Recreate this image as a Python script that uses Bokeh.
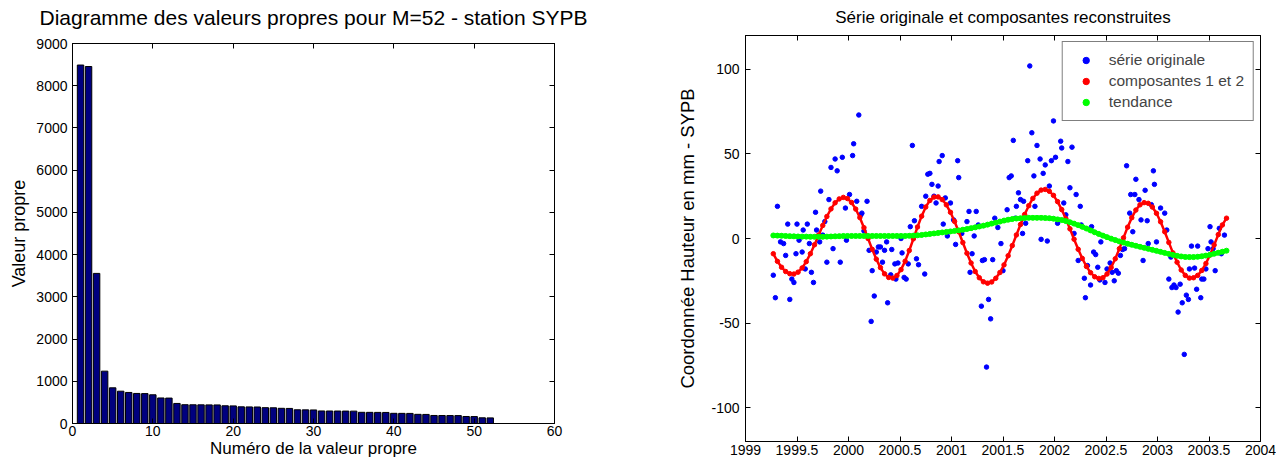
from bokeh.plotting import figure
from bokeh.layouts import row
from bokeh.models import (LinearAxis, FixedTicker, CustomJSTickFormatter, Range1d, Legend)
from bokeh.embed import file_html
from bokeh.resources import INLINE

# ---------------- data: eigenvalue diagram ----------------
eig_index = list(range(1, 53))
eig_values = [8490, 8455, 3555, 1240, 845, 765, 735, 712, 708, 680,
              605, 602, 475, 445, 443, 442, 441, 440, 420, 417,
              395, 393, 391, 375, 372, 360, 357, 325, 323, 321,
              297, 296, 295, 294, 293, 265, 264, 263, 262, 241,
              240, 239, 217, 215, 190, 189, 188, 187, 166, 164,
              135, 133]
left_x_ticks = [0, 10, 20, 30, 40, 50, 60]
left_y_ticks = [0, 1000, 2000, 3000, 4000, 5000, 6000, 7000, 8000, 9000]

# ---------------- data: original series ----------------
orig_t = [1999.27, 1999.29, 1999.31, 1999.34, 1999.37, 1999.39, 1999.41, 1999.43, 1999.45, 1999.47,
          1999.49, 1999.50, 1999.52, 1999.55, 1999.56, 1999.58, 1999.60, 1999.62, 1999.64, 1999.66,
          1999.68, 1999.69, 1999.72, 1999.73, 1999.75, 1999.77, 1999.79, 1999.81, 1999.83, 1999.85,
          1999.87, 1999.89, 1999.92, 1999.94, 1999.97, 1999.98,
          2000.01, 2000.04, 2000.05, 2000.08, 2000.10, 2000.12, 2000.13, 2000.15, 2000.18, 2000.20,
          2000.22, 2000.23, 2000.25, 2000.27, 2000.29, 2000.31, 2000.33, 2000.35, 2000.37, 2000.38,
          2000.41, 2000.42, 2000.45, 2000.46, 2000.48, 2000.51, 2000.52, 2000.54, 2000.56, 2000.58,
          2000.60, 2000.62, 2000.64, 2000.66, 2000.68, 2000.71, 2000.74, 2000.75, 2000.77, 2000.79,
          2000.81, 2000.83, 2000.85, 2000.87, 2000.88, 2000.91, 2000.92, 2000.94, 2000.96, 2000.99,
          2001.02, 2001.04, 2001.06, 2001.07, 2001.10, 2001.15, 2001.17, 2001.18, 2001.20, 2001.22,
          2001.24, 2001.26, 2001.29, 2001.30, 2001.32, 2001.34, 2001.36, 2001.38, 2001.40, 2001.42,
          2001.45, 2001.48, 2001.50, 2001.54, 2001.56, 2001.58, 2001.60, 2001.62, 2001.63, 2001.65,
          2001.67, 2001.69, 2001.70, 2001.72, 2001.74, 2001.76, 2001.78, 2001.80, 2001.81, 2001.83,
          2001.86, 2001.87, 2001.89, 2001.91, 2001.93, 2001.95, 2001.97, 2001.99,
          2002.01, 2002.03, 2002.06, 2002.07, 2002.09, 2002.11, 2002.13, 2002.15, 2002.17, 2002.19,
          2002.21, 2002.23, 2002.25, 2002.26, 2002.29, 2002.30, 2002.32, 2002.35, 2002.36, 2002.38,
          2002.40, 2002.42, 2002.44, 2002.45, 2002.49, 2002.51, 2002.54, 2002.56, 2002.58, 2002.60,
          2002.62, 2002.64, 2002.66, 2002.68, 2002.70, 2002.73, 2002.74, 2002.76, 2002.78, 2002.79,
          2002.82, 2002.84, 2002.86, 2002.88, 2002.90, 2002.91, 2002.94, 2002.96, 2002.97, 2002.99,
          2003.03, 2003.07, 2003.09, 2003.11, 2003.13, 2003.14, 2003.16, 2003.18, 2003.20, 2003.22,
          2003.24, 2003.26, 2003.28, 2003.30, 2003.31, 2003.33, 2003.36, 2003.38, 2003.39, 2003.42,
          2003.43, 2003.45, 2003.47, 2003.49, 2003.51, 2003.52, 2003.54, 2003.56, 2003.60, 2003.62,
          2003.65]
orig_y = [-21.7, -35, 19, -2, -3, -10, 8.5, -36, -24, -26,
          -9, 8.5, -1, -8, 5, -18, 8.5, -3, -20, -26,
          15.5, 5, -2, 28, 2, 10, -14, 23, 42, -6,
          47, 40, -14, 48, 18, -1,
          26, 49, 56, 22, 73, 14, 15, 4.5, 22, -7,
          -49, -19, -34, -8, -5, -5, -14, -7, -2, -38,
          -21.5, -6.5, -15, -24, -14.5, 0, -8.5, -23, -24, -15,
          7, 55, 10.5, -12, -15.5, 19, -21, 25, 38, 38.5,
          32, 25, 21, 31, 45.5, 49, 8.5, 24, 1.5, 21,
          11, -3.5, 46, 36, 3, 10, 16, -20, -9, 1.5,
          16, 8, -40, -13, -12.5, -76, -36, -47.5, -12.5, 12,
          6.5, -3, -19, 17, 36, 37, 58, 12, 19, 27,
          23, 3, 22, 9, 46, 102, 62.5, 37, 19, 55,
          47, -0.5, 38.5, 43.5, -1.5, 31, 46, 69.5,
          48, 9, 57.5, 53.5, 21, 14, 45.5, 30, 54, 3,
          26, -13, 19, 8, -23.5, -35, -16, -27.5, 7, -8,
          -9.5, -17, -24.5, -2, -26, -18, -14.5, -20, -25, -19,
          -20.5, -10, -6.5, -6, 43, 15, 26, 4, 26, 35,
          23, 11, -13, 28.5, 10.5, -3, 20, 40, 32, -2,
          18, 15, 5, -24, -11, -29, -27.5, -29, -43.5, -27,
          -38, -68.5, -33.5, -36, -18, -4.5, -17.5, -30, -4.5, -35,
          -24, -24, -18, -6, 7, -2, -6, -19, 6, -9,
          2]

# ---------------- data: reconstructed components and trend ----------------
rc_t = [1999.27, 1999.31, 1999.35, 1999.39, 1999.43, 1999.47, 1999.51, 1999.55, 1999.59, 1999.63,
        1999.67, 1999.71, 1999.75, 1999.79, 1999.83, 1999.87, 1999.91, 1999.95, 1999.99,
        2000.03, 2000.07, 2000.11, 2000.15, 2000.19, 2000.23, 2000.27, 2000.31, 2000.35, 2000.39,
        2000.43, 2000.47, 2000.51, 2000.55, 2000.59, 2000.63, 2000.67, 2000.71, 2000.75, 2000.79,
        2000.83, 2000.87, 2000.91, 2000.95, 2000.99,
        2001.03, 2001.07, 2001.11, 2001.15, 2001.19, 2001.23, 2001.27, 2001.31, 2001.35, 2001.39,
        2001.43, 2001.47, 2001.51, 2001.55, 2001.59, 2001.63, 2001.67, 2001.71, 2001.75, 2001.79,
        2001.83, 2001.87, 2001.91, 2001.95, 2001.99,
        2002.03, 2002.07, 2002.11, 2002.15, 2002.19, 2002.23, 2002.27, 2002.31, 2002.35, 2002.39,
        2002.43, 2002.47, 2002.51, 2002.55, 2002.59, 2002.63, 2002.67, 2002.71, 2002.75, 2002.79,
        2002.83, 2002.87, 2002.91, 2002.95, 2002.99,
        2003.03, 2003.07, 2003.11, 2003.15, 2003.19, 2003.23, 2003.27, 2003.31, 2003.35, 2003.39,
        2003.43, 2003.47, 2003.51, 2003.55, 2003.59, 2003.63, 2003.67]
rc12_y = [-9.0, -13.5, -17.0, -19.5, -20.8, -21.0, -19.9, -17.4, -13.7, -9.0,
          -3.7, 2.0, 7.7, 13.0, 17.5, 21.1, 23.4, 24.3, 23.6,
          21.3, 17.4, 12.4, 6.4, 0.0, -6.4, -12.2, -17.2, -20.9, -23.0,
          -23.4, -21.9, -18.4, -13.4, -7.1, -0.2, 6.8, 13.2, 18.6, 22.5,
          24.5, 24.6, 23.0, 19.9, 15.5,
          10.1, 4.0, -2.4, -8.7, -14.5, -19.5, -23.2, -25.6, -26.4, -25.7,
          -23.5, -20.1, -15.6, -10.2, -4.2, 2.1, 8.3, 14.2, 19.4, 23.7,
          26.8, 28.6, 29.0, 27.9, 25.5,
          21.8, 17.1, 11.7, 5.7, -0.4, -6.4, -11.8, -16.5, -20.2, -22.6,
          -23.6, -23.2, -21.0, -17.1, -12.0, -6.0, 0.4, 6.7, 12.3, 16.8,
          19.9, 21.2, 20.8, 18.6, 14.9,
          9.9, 4.0, -2.3, -8.5, -14.0, -18.6, -21.8, -23.4, -23.2, -21.8,
          -18.9, -14.8, -9.7, -3.8, 2.3, 8.0, 12.0]
trend_y = [1.8, 1.7, 1.6, 1.5, 1.4, 1.3, 1.2, 1.1, 1.1, 1.0,
           1.0, 1.0, 1.0, 1.1, 1.2, 1.3, 1.4, 1.5, 1.5,
           1.5, 1.5, 1.5, 1.5, 1.5, 1.5, 1.5, 1.5, 1.5, 1.5,
           1.5, 1.5, 1.5, 1.5, 1.6, 1.7, 1.9, 2.1, 2.4, 2.7,
           3.0, 3.3, 3.6, 3.9, 4.2,
           4.5, 4.8, 5.2, 5.6, 6.1, 6.6, 7.1, 7.6, 8.2, 8.8,
           9.4, 10.0, 10.6, 11.1, 11.5, 11.8, 12.0, 12.1, 12.2, 12.2,
           12.2, 12.2, 12.1, 12.0, 11.7,
           11.3, 10.9, 10.3, 9.6, 8.8, 7.9, 6.9, 5.9, 4.8, 3.7,
           2.7, 1.7, 0.8, -0.1, -0.9, -1.7, -2.4, -3.1, -3.7, -4.3,
           -4.9, -5.5, -6.1, -6.7, -7.3,
           -7.9, -8.5, -9.1, -9.7, -10.2, -10.6, -10.9, -11.0, -11.0, -10.8,
           -10.5, -10.1, -9.6, -9.0, -8.4, -7.8, -7.2]
right_x_ticks = [1999, 1999.5, 2000, 2000.5, 2001, 2001.5, 2002, 2002.5, 2003, 2003.5, 2004]
right_y_ticks = [-100, -50, 0, 50, 100]

FONT = "Liberation Sans"
PLAIN = "return tick.toString();"


def style_axis(ax, ticks, label_size="14px"):
    ax.ticker = FixedTicker(ticks=ticks)
    ax.formatter = CustomJSTickFormatter(code=PLAIN)
    ax.major_tick_in = 5
    ax.major_tick_out = 0
    ax.minor_tick_line_color = None
    ax.axis_line_color = "black"
    ax.major_tick_line_color = "black"
    ax.major_label_text_font = FONT
    ax.major_label_text_font_size = label_size
    ax.major_label_text_color = "black"
    ax.axis_label_text_font = FONT
    ax.axis_label_text_font_style = "normal"
    ax.axis_label_text_color = "black"


def mirror_axis(p, ticks, side):
    ax = LinearAxis(ticker=FixedTicker(ticks=ticks), major_tick_in=5, major_tick_out=0,
                    minor_tick_line_color=None, axis_line_color="black",
                    major_label_text_font_size="0px", major_label_standoff=0,
                    formatter=CustomJSTickFormatter(code="return '';"))
    p.add_layout(ax, side)


def style_title(t, size, lift, fallback_standoff):
    t.text_font = FONT
    t.text_font_size = size
    t.text_font_style = "normal"
    t.text_color = "black"
    t.align = "center"
    try:
        t.padding = dict(left=0, right=0, top=0, bottom=lift)
        t.standoff = 0
    except Exception:
        t.standoff = fallback_standoff


# ---------------- left figure ----------------
p1 = figure(width=600, height=462, x_range=Range1d(0, 60), y_range=Range1d(0, 9000),
            output_backend="svg", toolbar_location=None, frame_align=False,
            min_border_left=72, min_border_right=46, min_border_top=43, min_border_bottom=39,
            title="Diagramme des valeurs propres pour M=52 - station SYPB")
p1.vbar(x=eig_index, top=eig_values, width=0.8, fill_color="#00007F", line_color="black", line_width=1)
p1.grid.visible = False
p1.outline_line_color = "black"
style_axis(p1.xaxis[0], left_x_ticks)
style_axis(p1.yaxis[0], left_y_ticks)
p1.xaxis[0].axis_label = "Numéro de la valeur propre"
p1.yaxis[0].axis_label = "Valeur propre"
p1.xaxis[0].axis_label_text_font_size = "17px"
p1.yaxis[0].axis_label_text_font_size = "18px"
p1.xaxis[0].major_label_standoff = 2
p1.xaxis[0].axis_label_standoff = 0
p1.yaxis[0].major_label_standoff = 5
p1.yaxis[0].axis_label_standoff = 4
mirror_axis(p1, left_x_ticks, "above")
mirror_axis(p1, left_y_ticks, "right")
style_title(p1.title, "21px", 15, 16)

# ---------------- right figure ----------------
p2 = figure(width=676, height=462, x_range=Range1d(1999, 2004), y_range=Range1d(-120, 120),
            output_backend="svg", toolbar_location=None, frame_align=False,
            min_border_left=145, min_border_right=16, min_border_top=35, min_border_bottom=21,
            title="Série originale et composantes reconstruites")
p2.grid.visible = False
p2.outline_line_color = "black"
r_orig = p2.scatter(orig_t, orig_y, size=4.5, color="#0000FF")
p2.line(rc_t, rc12_y, line_width=2.5, color="#FF0000")
r_rc = p2.scatter(rc_t, rc12_y, size=4.5, color="#FF0000")
p2.line(rc_t, trend_y, line_width=4.5, color="#00FF00")
r_tr = p2.scatter(rc_t, trend_y, size=5, color="#00FF00")
style_axis(p2.xaxis[0], right_x_ticks)
style_axis(p2.yaxis[0], right_y_ticks)
p2.xaxis[0].major_label_standoff = 3
p2.yaxis[0].major_label_standoff = 6
p2.yaxis[0].axis_label = "Coordonnée Hauteur en mm - SYPB"
p2.yaxis[0].axis_label_text_font_size = "18.5px"
p2.yaxis[0].axis_label_standoff = 10
mirror_axis(p2, right_x_ticks, "above")
mirror_axis(p2, right_y_ticks, "right")
style_title(p2.title, "17px", 9, 13)

legend = Legend(items=[("série originale", [r_orig]),
                       ("composantes 1 et 2", [r_rc]),
                       ("tendance", [r_tr])],
                location="top_right")
legend.border_line_color = "black"
legend.border_line_width = 1
legend.background_fill_color = "white"
legend.background_fill_alpha = 1
legend.label_text_font = FONT
legend.label_text_font_size = "15.5px"
legend.glyph_width = 28
legend.glyph_height = 16
legend.label_height = 16
legend.spacing = 3
legend.padding = 9
legend.margin = 6
legend.label_standoff = 9
p2.add_layout(legend)

layout = row(p1, p2)
open("out.html", "w").write(file_html(layout, INLINE))
